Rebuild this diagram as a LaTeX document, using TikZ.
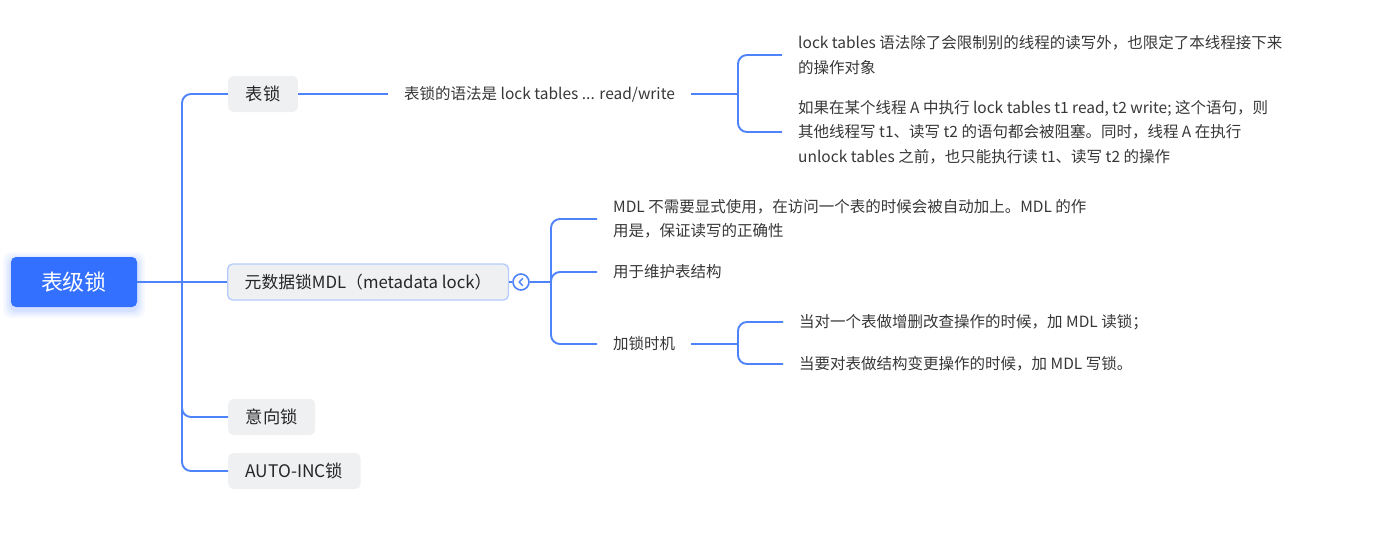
\documentclass[tikz,border=0pt]{standalone}
\usepackage{fontspec}
\newfontfamily\cjk{Noto Sans CJK SC}
\definecolor{linec}{RGB}{78,131,250}
\definecolor{rootc}{RGB}{51,112,255}
\definecolor{grayf}{RGB}{239,240,242}
\definecolor{selb}{RGB}{182,204,252}
\definecolor{txt}{RGB}{55,55,55}
\definecolor{ntxt}{RGB}{38,38,38}
\begin{document}
\begin{tikzpicture}[x=1pt,y=-1pt,
  conn/.style={draw=linec,line width=1.9pt,rounded corners=9pt},
  rootbox/.style={fill=rootc,rounded corners=5pt,minimum width=126pt,minimum height=50pt,inner sep=0pt,text=white,font=\cjk\fontsize{22}{26}\selectfont},
  topic/.style={fill=grayf,rounded corners=5pt,minimum height=36pt,inner xsep=17.5pt,inner ysep=0pt,text=ntxt,font=\cjk\fontsize{17.3}{20}\selectfont,anchor=west},
  leaf/.style={inner xsep=16pt,inner ysep=2pt,text=txt,align=left,anchor=west,font=\cjk\fontsize{15.5}{24.5}\selectfont},
  collapse/.style={circle,draw=linec,line width=1.6pt,fill=white,minimum size=16pt,inner sep=0pt}
]
\useasboundingbox (0,0) rectangle (1377,549);
% root glow
\foreach \g/\o in {8/0.04,6/0.05,4/0.06,2/0.08}{
  \fill[rootc,opacity=\o,rounded corners=8pt] (11-\g,260-\g) rectangle (137+\g,310+\g);
}
\node[rootbox] (root) at (74,282) {表级锁};
% level 1
\node[topic] (bs) at (228,94) {表锁};
\node[topic,draw=selb,line width=1.4pt,inner xsep=17pt,font=\cjk\fontsize{16.8}{20}\selectfont] (mdl) at (227,282) {元数据锁MDL（metadata lock）};
\node[topic] (yx) at (228,417) {意向锁};
\node[topic] (ai) at (228,471) {AUTO-INC锁};
\coordinate (hub) at (182,282);
\draw[conn] (root.east) -- (mdl.west);
\draw[conn] (hub) |- (bs.west);
\draw[conn] (hub) |- (yx.west);
\draw[conn] (hub) |- (ai.west);
% 表锁 branch
\node[leaf] (syn) at (388,94) {表锁的语法是 lock tables ... read/write};
\draw[conn] (bs.east) -- (syn.west);
\coordinate (h1) at (738,94);
\node[leaf] (t1) at (782,55) {lock tables 语法除了会限制别的线程的读写外，也限定了本线程接下来\\的操作对象};
\node[leaf] (t2) at (782,132) {如果在某个线程 A 中执行 lock tables t1 read, t2 write; 这个语句，则\\其他线程写 t1、读写 t2 的语句都会被阻塞。同时，线程 A 在执行\\unlock tables 之前，也只能执行读 t1、读写 t2 的操作};
\draw[conn] (syn.east) -- (h1);
\draw[conn] (h1) |- (t1.west);
\draw[conn] (h1) |- (t2.west);
% MDL branch
\node[collapse] (col) at (521,282) {};
\draw[linec,line width=1.4pt,line cap=round,line join=round]
  ([shift={(1.6,-3.6)}]col.center) -- ([shift={(-1.8,0)}]col.center) -- ([shift={(1.6,3.6)}]col.center);
\coordinate (h2) at (551,282);
\draw[conn] (mdl.east) -- (col.west);
\draw[conn] (col.east) -- (h2);
\node[leaf] (m1) at (597,219) {MDL 不需要显式使用，在访问一个表的时候会被自动加上。MDL 的作\\用是，保证读写的正确性};
\node[leaf] (m2) at (597,272) {用于维护表结构};
\node[leaf] (m3) at (597,344) {加锁时机};
\draw[conn] (h2) |- (m1.west);
\draw[conn] (h2) |- (m2.west);
\draw[conn] (h2) |- (m3.west);
\coordinate (h3) at (738,344);
\node[leaf] (k1) at (783,322) {当对一个表做增删改查操作的时候，加 MDL 读锁；};
\node[leaf] (k2) at (783,364) {当要对表做结构变更操作的时候，加 MDL 写锁。};
\draw[conn] (m3.east) -- (h3);
\draw[conn] (h3) |- (k1.west);
\draw[conn] (h3) |- (k2.west);
\end{tikzpicture}
\end{document}
